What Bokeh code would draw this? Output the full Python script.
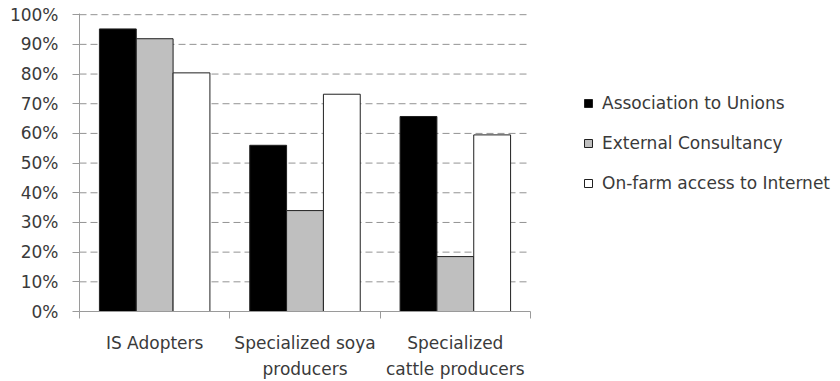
from bokeh.plotting import figure
from bokeh.models import (ColumnDataSource, Range1d, FixedTicker, NumeralTickFormatter,
                          Legend, LegendItem)
from bokeh.transform import dodge
from bokeh.embed import file_html
from bokeh.resources import INLINE

# Share of farms per group
groups = ["IS Adopters", "Specialized soya\nproducers", "Specialized\ncattle producers"]
unions = [0.952, 0.56, 0.657]
consultancy = [0.919, 0.34, 0.185]
internet = [0.804, 0.732, 0.595]
series_names = ["Association to Unions", "External Consultancy", "On-farm access to Internet"]
y_ticks = [0.0, 0.1, 0.2, 0.3, 0.4, 0.5, 0.6, 0.7, 0.8, 0.9, 1.0]

FONT = "DejaVu Sans"
FSIZE = "17px"
TEXT = "#3a3a3a"
AXIS = "#9a9a9a"

W, H = 840, 381
LEFT, TOP, BOTTOM = 79, 13, 68
PLOT_RIGHT = 530          # where the bar area ends; the legend sits to its right

n = len(groups)
# the frame runs to the right edge so the legend can live inside it
x_end = n * (W - LEFT) / (PLOT_RIGHT - LEFT)

centers = [i + 0.5 for i in range(n)]
source = ColumnDataSource(dict(x=centers, unions=unions, consultancy=consultancy, internet=internet))

p = figure(width=W, height=H, output_backend="svg", toolbar_location=None,
           x_range=Range1d(0, x_end), y_range=Range1d(0, 1.004),
           min_border_left=LEFT, min_border_top=TOP, min_border_bottom=BOTTOM, min_border_right=0)
p.outline_line_color = None
p.background_fill_color = "white"
p.xgrid.visible = False
p.ygrid.visible = False

# dashed horizontal gridlines across the bar area only
grid_y = y_ticks[1:]
p.segment(x0=[0] * len(grid_y), x1=[n] * len(grid_y), y0=grid_y, y1=grid_y,
          line_color="#939393", line_dash="7 4", line_width=1)

bar_w = 0.245
fills = ["#000000", "#bfbfbf", "#ffffff"]
fields = ["unions", "consultancy", "internet"]
offsets = [-bar_w, 0.0, bar_w]
renderers = []
for f, c, o in zip(fields, fills, offsets):
    r = p.vbar(x=dodge("x", o, range=p.x_range), top=f, width=bar_w, bottom=0,
               source=source, fill_color=c, line_color="#202020", line_width=1)
    renderers.append(r)

# y axis
p.yaxis.ticker = FixedTicker(ticks=y_ticks)
p.yaxis.formatter = NumeralTickFormatter(format="0%")
p.yaxis.axis_line_color = AXIS
p.yaxis.major_tick_line_color = AXIS
p.yaxis.major_tick_out = 7
p.yaxis.major_tick_in = 0
p.yaxis.minor_tick_line_color = None
p.yaxis.major_label_text_font = FONT
p.yaxis.major_label_text_font_size = FSIZE
p.yaxis.major_label_text_color = TEXT
p.yaxis.major_label_standoff = 14

# x axis: labels at group centres, ticks at group boundaries
p.xaxis.bounds = (0, n)
p.xaxis.ticker = FixedTicker(ticks=centers, minor_ticks=list(range(n + 1)))
p.xaxis.major_label_overrides = {c: g for c, g in zip(centers, groups)}
p.xaxis.axis_line_color = AXIS
p.xaxis.major_tick_line_color = None
p.xaxis.major_tick_out = 0
p.xaxis.minor_tick_line_color = AXIS
p.xaxis.minor_tick_out = 7
p.xaxis.minor_tick_in = 0
p.xaxis.major_label_text_font = FONT
p.xaxis.major_label_text_font_size = FSIZE
p.xaxis.major_label_text_color = TEXT
p.xaxis.major_label_text_line_height = 1.32
p.xaxis.major_label_standoff = 14

legend = Legend(items=[LegendItem(label=s, renderers=[r]) for s, r in zip(series_names, renderers)],
                location=(504, 118), orientation="vertical",
                glyph_width=10, glyph_height=10, label_standoff=9, spacing=20,
                label_text_font=FONT, label_text_font_size=FSIZE, label_text_color=TEXT,
                label_height=20, background_fill_alpha=0, border_line_color=None,
                padding=0, margin=0)
p.add_layout(legend, "center")

open("out.html", "w").write(file_html(p, INLINE))
